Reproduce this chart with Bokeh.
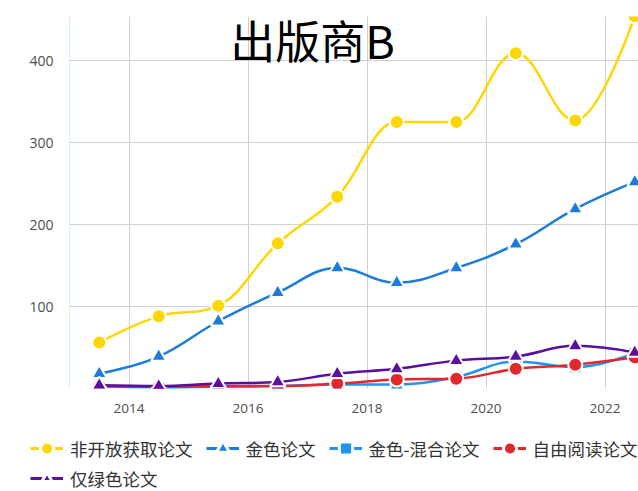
import numpy as np
from bokeh.plotting import figure
from bokeh.models import Legend, LegendItem, Label, FixedTicker, ColumnDataSource, Range1d
from bokeh.embed import file_html
from bokeh.resources import INLINE

# ---- data ----
years = [2013.5, 2014.5, 2015.5, 2016.5, 2017.5, 2018.5, 2019.5, 2020.5, 2021.5, 2022.5]
non_oa = [56, 88, 101, 177, 234, 325, 325, 409, 327, 454]
gold = [18, 39, 82, 117, 147, 129, 147, 176, 219, 252]
hybrid = [2, 1, 2, 3, 5, 5, 14, 33, 26, 43]
bronze = [3, 2, 3, 3, 6, 11, 12, 24, 29, 38]
green = [4, 3, 6, 8, 18, 24, 34, 39, 52, 44]

series_names = ["非开放获取论文", "金色论文", "金色-混合论文", "自由阅读论文", "仅绿色论文"]
series_values = [non_oa, gold, hybrid, bronze, green]
series_colors = ["#FFD700", "#1B7CDB", "#1E96F0", "#E0282E", "#5A0FA3"]
series_markers = ["circle", "triangle", "square", "circle", "triangle"]
marker_sizes = [14, 15, 12, 14, 15]

x_ticks = [2014, 2016, 2018, 2020, 2022]
y_ticks = [100, 200, 300, 400]
title_text = "出版商B"


def spline_segments(xs, ys, smoothing=1.5):
    """Highcharts-style spline -> cubic bezier segments."""
    n = len(xs)
    out = dict(x0=[], y0=[], x1=[], y1=[], cx0=[], cy0=[], cx1=[], cy1=[])
    prev_r = (xs[0], ys[0])
    d = smoothing + 1
    for i in range(1, n):
        px, py = xs[i], ys[i]
        if i < n - 1:
            lx, ly = xs[i - 1], ys[i - 1]
            nx, ny = xs[i + 1], ys[i + 1]
            lcx = (smoothing * px + lx) / d
            lcy = (smoothing * py + ly) / d
            rcx = (smoothing * px + nx) / d
            rcy = (smoothing * py + ny) / d
            corr = 0.0
            if rcx != lcx:
                corr = ((rcy - lcy) * (rcx - px)) / (rcx - lcx) + py - rcy
            lcy += corr
            rcy += corr
            if lcy > ly and lcy > py:
                lcy = max(ly, py)
                rcy = 2 * py - lcy
            elif lcy < ly and lcy < py:
                lcy = min(ly, py)
                rcy = 2 * py - lcy
            if rcy > ny and rcy > py:
                rcy = max(ny, py)
                lcy = 2 * py - rcy
            elif rcy < ny and rcy < py:
                rcy = min(ny, py)
                lcy = 2 * py - rcy
        else:
            lcx, lcy, rcx, rcy = px, py, px, py
        out["x0"].append(xs[i - 1]); out["y0"].append(ys[i - 1])
        out["x1"].append(px); out["y1"].append(py)
        out["cx0"].append(prev_r[0]); out["cy0"].append(prev_r[1])
        out["cx1"].append(lcx); out["cy1"].append(lcy)
        prev_r = (rcx, rcy)
    return out


# ---- main chart ----
p = figure(width=638, height=425, output_backend="svg", toolbar_location=None,
           x_range=Range1d(2013.0, 2022.563), y_range=Range1d(0, 453.7),
           min_border_left=69, min_border_right=0, min_border_top=16, min_border_bottom=37)
p.outline_line_color = None
p.background_fill_color = "white"
p.border_fill_color = "white"

p.yaxis.ticker = FixedTicker(ticks=y_ticks)
p.xaxis.ticker = FixedTicker(ticks=x_ticks)
p.ygrid.ticker = FixedTicker(ticks=y_ticks)
p.xgrid.ticker = FixedTicker(ticks=x_ticks)
p.grid.grid_line_color = "#d0d0d0"
p.grid.grid_line_width = 1
for ax in (p.xaxis, p.yaxis):
    ax.major_tick_line_color = None
    ax.minor_tick_line_color = None
    ax.major_tick_out = 0
    ax.major_tick_in = 0
    ax.major_label_text_font = "Open Sans"
    ax.major_label_text_color = "#4d4d4d"
p.xaxis.major_label_text_font_size = "13.5px"
p.yaxis.major_label_text_font_size = "14px"
p.xaxis.axis_line_color = None
p.yaxis.axis_line_color = "#CCF2FF"
p.yaxis.major_label_standoff = 16
p.xaxis.major_label_standoff = 15

for vals, col, mk, ms in zip(series_values, series_colors, series_markers, marker_sizes):
    seg = ColumnDataSource(spline_segments(years, vals))
    p.bezier(x0="x0", y0="y0", x1="x1", y1="y1", cx0="cx0", cy0="cy0", cx1="cx1", cy1="cy1",
             source=seg, line_color=col, line_width=2.5)
    p.scatter(x=years, y=vals, marker=mk, size=ms, fill_color=col, line_color="white", line_width=2)

p.add_layout(Label(x=2017.084, y=425.6, text=title_text, text_font="Noto Sans CJK SC",
                   text_font_size="45px", text_color="black", text_align="center",
                   text_baseline="middle"))

# ---- legend strip (separate root, full-width frame) ----
q = figure(width=638, height=66, output_backend="svg", toolbar_location=None,
           x_range=Range1d(0, 1), y_range=Range1d(0, 1),
           x_axis_location=None, y_axis_location=None,
           min_border_left=0, min_border_right=0, min_border_top=0, min_border_bottom=0)
q.grid.visible = False
q.outline_line_color = None
q.border_fill_color = "white"
q.background_fill_color = "white"

items = []
for name, col, mk in zip(series_names, series_colors, series_markers):
    lr = q.line(x=[np.nan], y=[np.nan], line_color=col, line_width=3)
    sr = q.scatter(x=[np.nan], y=[np.nan], marker=mk, fill_color=col, line_color="white", line_width=3)
    items.append(LegendItem(label=name, renderers=[lr, sr]))

common = dict(orientation="horizontal", glyph_width=33, label_standoff=7, spacing=13,
              padding=0, margin=0, border_line_color=None, background_fill_alpha=0,
              label_text_font="Noto Sans CJK SC", label_text_font_size="17.5px",
              label_text_color="#333333")
q.add_layout(Legend(items=items[:4], location=(30, 26), glyph_height=34, label_height=34, **common))
q.add_layout(Legend(items=items[4:], location=(30, 0), glyph_height=26, label_height=26, **common))

open("out.html", "w").write(file_html([p, q], INLINE))
